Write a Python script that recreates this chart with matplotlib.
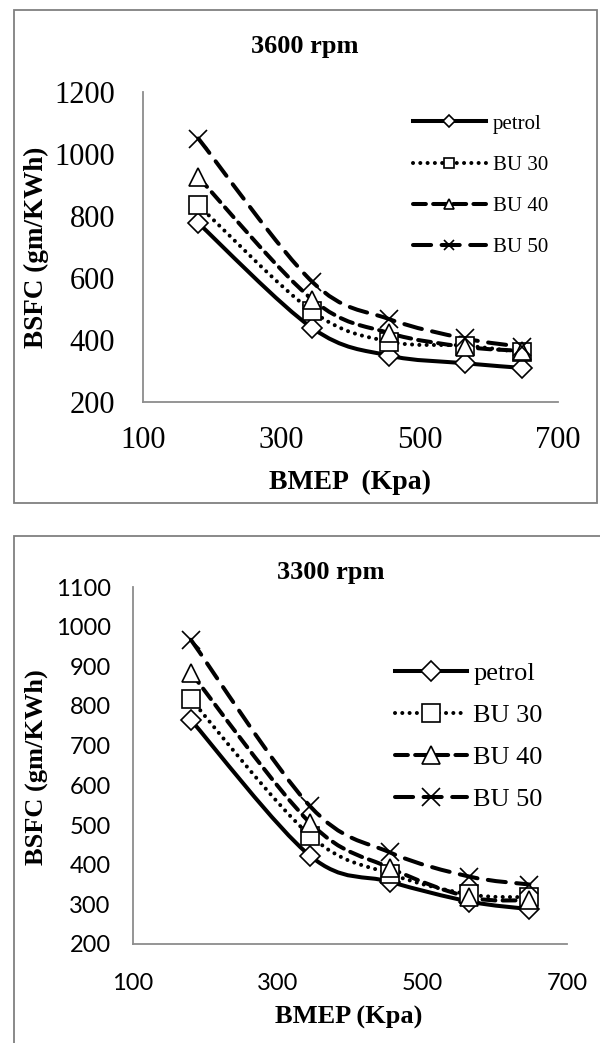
import numpy as np
import matplotlib
matplotlib.use('Agg')
import matplotlib.pyplot as plt
from matplotlib.path import Path
from matplotlib.patches import PathPatch, Rectangle
from matplotlib.lines import Line2D

# data
bmep = [180, 345, 455, 565, 648]
series_names = ['petrol', 'BU 30', 'BU 40', 'BU 50']

petrol_3600 = [777, 438, 350, 325, 310]
bu30_3600 = [835, 492, 395, 382, 360]
bu40_3600 = [925, 530, 423, 378, 365]
bu50_3600 = [1050, 587, 468, 405, 378]

petrol_3300 = [765, 422, 357, 307, 288]
bu30_3300 = [817, 473, 377, 325, 318]
bu40_3300 = [884, 505, 392, 318, 310]
bu50_3300 = [967, 547, 431, 370, 350]

serif = 'Liberation Serif'
LW = 2.9
styles = [
    dict(marker='D', ms=10, ls='-'),
    dict(marker='s', ms=13, ls=(0, (0.01, 1.8))),
    dict(marker='^', ms=13, ls=(0, (3.2, 1.8))),
    dict(marker='x', ms=13, ls=(0, (4.5, 2.6))),
]


def smooth_path(x, y):
    # excel-like smoothed line: cubic bezier through the points
    x = np.asarray(x, float)
    y = np.asarray(y, float)
    n = len(x)
    verts = [(x[0], y[0])]
    codes = [Path.MOVETO]
    for i in range(n - 1):
        i0 = max(i - 1, 0)
        i3 = min(i + 2, n - 1)
        c1 = (x[i] + (x[i + 1] - x[i0]) / 6, y[i] + (y[i + 1] - y[i0]) / 6)
        c2 = (x[i + 1] - (x[i3] - x[i]) / 6, y[i + 1] - (y[i3] - y[i]) / 6)
        verts += [c1, c2, (x[i + 1], y[i + 1])]
        codes += [Path.CURVE4] * 3
    return Path(verts, codes)


def draw_panel(ax, data, ylim, yticks, tickfont, tickfs, xpad, ypad):
    for vals, st in zip(data, styles):
        patch = PathPatch(smooth_path(bmep, vals), fill=False, ec='black',
                          lw=LW, ls=st['ls'], capstyle='round', zorder=2)
        ax.add_patch(patch)
        ax.plot(bmep, vals, ls='none', marker=st['marker'], ms=st['ms'],
                mfc='white', mec='black', mew=1.2, zorder=3)
    ax.set_xlim(100, 700)
    ax.set_ylim(*ylim)
    ax.set_xticks([100, 300, 500, 700])
    ax.set_yticks(yticks)
    for s in ['top', 'right']:
        ax.spines[s].set_visible(False)
    for s in ['left', 'bottom']:
        ax.spines[s].set_color('#8c8c8c')
        ax.spines[s].set_linewidth(1.3)
    ax.tick_params(length=0, labelsize=tickfs)
    ax.tick_params(axis='x', pad=xpad)
    ax.tick_params(axis='y', pad=ypad)
    for lab in ax.get_xticklabels() + ax.get_yticklabels():
        lab.set_family(tickfont)


def proxies(ms_scale):
    out = []
    for st in styles:
        out.append(Line2D([], [], color='black', lw=LW, ls=st['ls'],
                          dash_capstyle='round', marker=st['marker'],
                          ms=st['ms'] * ms_scale, mfc='white', mec='black',
                          mew=1.2))
    return out


fig = plt.figure(figsize=(6, 10.43), dpi=100)
W, H = 600.0, 1043.0

# frames around each panel
fig.add_artist(Rectangle((14 / W, 1 - 503 / H), 583 / W, 493 / H,
                         transform=fig.transFigure, fill=False,
                         ec='#808080', lw=1.3))
fig.add_artist(Rectangle((14 / W, -0.01), 1.0, 1 - 536 / H + 0.01,
                         transform=fig.transFigure, fill=False,
                         ec='#808080', lw=1.3))

# top panel: 3600 rpm
ax1 = fig.add_axes([143 / W, 1 - 402 / H, 415 / W, 310 / H])
draw_panel(ax1, [petrol_3600, bu30_3600, bu40_3600, bu50_3600],
           (200, 1200), range(200, 1201, 200), serif, 22, 17.6, 20)
fig.legend(proxies(0.6), series_names, loc='upper left',
           bbox_to_anchor=(413 / W, 1 - 114 / H), frameon=False,
           prop={'family': serif, 'size': 15}, handlelength=3.5,
           handletextpad=0.33, labelspacing=1.04, borderpad=0,
           borderaxespad=0)
fig.text(305 / W, 1 - 47 / H, '3600 rpm', ha='center', va='center',
         family=serif, weight='bold', fontsize=19)
fig.text(350 / W, 1 - 482 / H, 'BMEP  (Kpa)', ha='center', va='center',
         family=serif, weight='bold', fontsize=20)
fig.text(36 / W, 1 - 247 / H, 'BSFC (gm/KWh)', ha='center', va='center',
         rotation=90, family=serif, weight='bold', fontsize=19.5)

# bottom panel: 3300 rpm
ax2 = fig.add_axes([133 / W, 1 - 944 / H, 434 / W, 357 / H])
draw_panel(ax2, [petrol_3300, bu30_3300, bu40_3300, bu50_3300],
           (200, 1100), range(200, 1101, 100), 'Lato', 17, 21, 16)
fig.legend(proxies(1.0), series_names, loc='upper left',
           bbox_to_anchor=(395 / W, 1 - 662 / H), frameon=False,
           prop={'family': serif, 'size': 19}, handlelength=2.73,
           handletextpad=0.23, labelspacing=0.70, borderpad=0,
           borderaxespad=0)
fig.text(331 / W, 1 - 573 / H, '3300 rpm', ha='center', va='center',
         family=serif, weight='bold', fontsize=19)
fig.text(349 / W, 1 - 1017 / H, 'BMEP (Kpa)', ha='center', va='center',
         family=serif, weight='bold', fontsize=19)
fig.text(36 / W, 1 - 767 / H, 'BSFC (gm/KWh)', ha='center', va='center',
         rotation=90, family=serif, weight='bold', fontsize=19)

fig.savefig('out.png', dpi=100)
